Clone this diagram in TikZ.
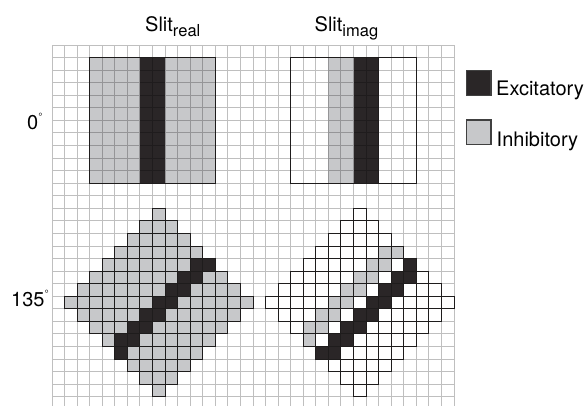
\documentclass[tikz,border=0pt]{standalone}
\usepackage{fontspec}
\setmainfont{TeX Gyre Heros}
\definecolor{cdark}{RGB}{42,38,39}
\definecolor{cgray}{RGB}{199,200,202}
\definecolor{cline}{RGB}{30,28,28}
\newcommand\degmark{\raisebox{9pt}{\fontsize{10.5}{10.5}\selectfont °}}
\newcommand\subtxt[1]{\raisebox{-4.5pt}{\fontsize{16.5}{16.5}\selectfont #1}}
\begin{document}
\begin{tikzpicture}[x=1pt,y=-1pt,
  lab/.style={inner sep=0pt, anchor=base west, font=\fontsize{20}{20}\selectfont},
  gridline/.style={draw=black, draw opacity=0.25, line width=1pt},
  cellbox/.style={draw=cline, line width=0.9pt},
  panelbox/.style={draw=cline, line width=1.1pt},
  legbox/.style={draw=black!75, line width=1.4pt, minimum size=24.6pt, inner sep=0pt}
]
\useasboundingbox (0,0) rectangle (586,405);
\begin{scope}[shift={(52,45)}, x=12.5625pt, y=-12.5625pt]
  % top panels fills
  \fill[cgray] (3,1) rectangle (13,11);
  \fill[cdark] (7,1) rectangle (9,11);
  \fill[cgray] (22,1) rectangle (24,11);
  \fill[cdark] (24,1) rectangle (26,11);
  % grid
  \draw[gridline] foreach \i in {0,...,32} {(\i,0) -- (\i,28.8)}
                  foreach \j in {0,...,28} {(0,\j) -- (32,\j)};
  % panel outlines
  \draw[panelbox] (3,1) rectangle (13,11);
  \draw[panelbox] (19,1) rectangle (29,11);
  % rotated real (centre col 8, row 20)
  \foreach \u in {-7,...,7} {
    \pgfmathtruncatemacro\m{7-abs(\u)}
    \pgfmathtruncatemacro\mm{-\m}
    \foreach \v in {\mm,...,\m} {
      \pgfmathtruncatemacro\ss{\u+\v}
      \ifnum\ss<0 \def\fc{cgray}\else\ifnum\ss>1 \def\fc{cgray}\else\def\fc{cdark}\fi\fi
      \filldraw[cellbox, fill=\fc] (8+\u,20+\v) rectangle ++(1,1);
    }
  }
  % rotated imag (centre col 24, row 20)
  \foreach \u in {-7,...,7} {
    \pgfmathtruncatemacro\m{7-abs(\u)}
    \pgfmathtruncatemacro\mm{-\m}
    \foreach \v in {\mm,...,\m} {
      \pgfmathtruncatemacro\ss{\u+\v}
      \def\fc{white}
      \ifnum\ss=-2 \def\fc{cgray}\fi
      \ifnum\ss=-1 \def\fc{cgray}\fi
      \ifnum\ss=1 \def\fc{cdark}\fi
      \ifnum\ss=2 \def\fc{cdark}\fi
      \filldraw[cellbox, fill=\fc] (24+\u,20+\v) rectangle ++(1,1);
    }
  }
\end{scope}
% legend
\node[legbox, fill=cdark] (exsq) at (478.8,83) {};
\node[legbox, fill=cgray] (insq) at (478.8,132.3) {};
% labels
\node[lab] (sreal) at (145,31.5) {Slit\subtxt{real}};
\node[lab] (simag) at (314.5,31.5) {Slit\subtxt{imag}};
\node[lab] (deg0) at (27,129) {0\degmark};
\node[lab] (deg135) at (11,306.5) {135\degmark};
\node[lab] (exc) at (496,95.5) {Excitatory};
\node[lab] (inh) at (496.5,146) {Inhibitory};
\end{tikzpicture}
\end{document}
